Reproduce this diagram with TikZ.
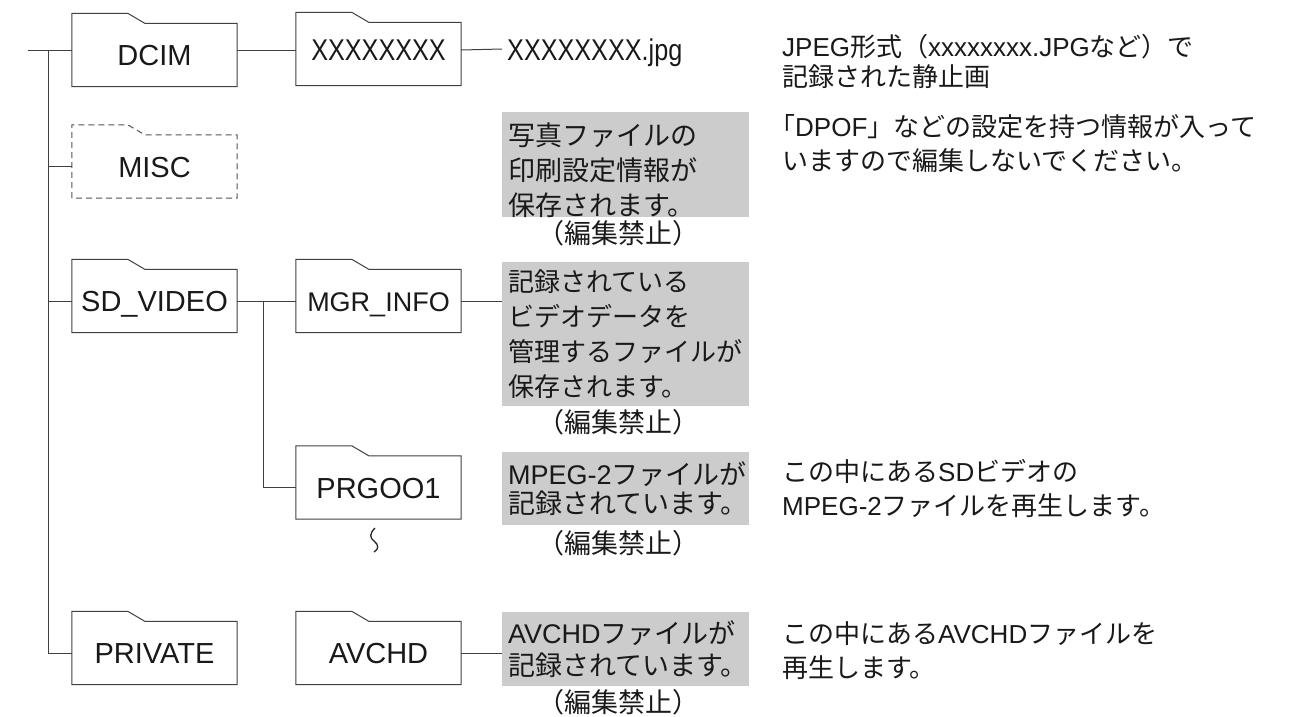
\documentclass[tikz,border=0pt]{standalone}
\usepackage{fontspec}
\setmainfont{Liberation Sans}
\newfontfamily\jpfont{Noto Sans CJK JP}
\newfontfamily\latinfont{Liberation Sans}
\newfontfamily\condfont[FakeStretch=0.84]{Liberation Sans}
\newcommand\lat[1]{\mbox{\latinfont #1}}
\newcommand\folderoutline[2][]{%
  \draw[fline,#1] (#2.south west) -- (#2.north west) -- ++(0,-10) -- ++(56,0)
    -- ++(17,10) -- (#2.north east) -- (#2.south east) -- cycle;}
\begin{document}
\begin{tikzpicture}[x=1pt,y=-1pt,
  fline/.style={draw=black!75, line width=1pt},
  conn/.style={draw=black!75, line width=1pt},
  folderbody/.style={minimum width=165pt, minimum height=63pt, inner sep=0pt,
    font=\fontsize{29}{34}\selectfont, text height=21pt, text depth=0pt, text=black!90},
  graybox/.style={fill=black!20, anchor=north west, minimum width=247pt,
    text width=235pt, inner xsep=6pt, inner ysep=0pt, align=left,
    text=black!90},
  note/.style={anchor=north west, inner sep=0pt, align=left, text=black!90,
    font=\jpfont\fontsize{26}{34}\selectfont},
  kinshi/.style={inner sep=0pt, text=black!90, font=\jpfont\fontsize{27}{32}\selectfont}
]
\useasboundingbox (0,0) rectangle (1312,716);

% folders
\node[folderbody] (dcim) at (154.5,55) {DCIM};
\node[folderbody, font=\condfont\fontsize{30}{34}\selectfont, text height=22pt, text depth=10pt] (xdir) at (378.5,54) {XXXXXXXX};
\node[folderbody] (misc) at (154.5,166.5) {MISC};
\node[folderbody] (sdv) at (154.5,301) {SD\_VIDEO};
\node[folderbody, font=\fontsize{27}{34}\selectfont] (mgr) at (378.5,301) {MGR\_INFO};
\node[folderbody] (prg) at (378.5,487.5) {PRGOO1};
\node[folderbody] (priv) at (154.5,653) {PRIVATE};
\node[folderbody] (avchd) at (378.5,653) {AVCHD};

\folderoutline{dcim}
\folderoutline{xdir}
\folderoutline[dash pattern=on 6pt off 4pt, draw=black!68]{misc}
\folderoutline{sdv}
\folderoutline{mgr}
\folderoutline{prg}
\folderoutline{priv}
\folderoutline{avchd}

% file name
\node[anchor=west, inner xsep=5pt, inner ysep=0pt, font=\condfont\fontsize{30}{34}\selectfont,
  text height=22pt, text depth=0pt, text=black!90] (jpg) at (502,49) {XXXXXXXX.jpg};

% gray boxes
\node[graybox, minimum height=105pt, font=\jpfont\fontsize{27}{35}\selectfont] (b1) at (502,112)
  {\rule{0pt}{33pt}写真ファイルの\\印刷設定情報が\\保存されます。};
\node[graybox, minimum height=144pt, font=\jpfont\fontsize{26}{35}\selectfont] (b2) at (502,262)
  {記録されている\\ビデオデータを\\管理するファイルが\\保存されます。};
\node[graybox, minimum height=73pt, font=\jpfont\fontsize{27}{29}\selectfont] (b3) at (502,452)
  {\lat{MPEG-2}ファイルが\\記録されています。};
\node[graybox, minimum height=74pt, font=\jpfont\fontsize{27}{32.5}\selectfont] (b4) at (502,612)
  {\lat{AVCHD}ファイルが\\記録されています。};

\node[kinshi] (k1) at (618,233) {（編集禁止）};
\node[kinshi] (k2) at (618,422) {（編集禁止）};
\node[kinshi] (k3) at (618,543) {（編集禁止）};
\node[kinshi] (k4) at (618,702) {（編集禁止）};

% right notes
\node[note, font=\jpfont\fontsize{26}{30.5}\selectfont] (n1) at (782,34)
  {\lat{JPEG}形式（\lat{xxxxxxxx.JPG}など）で\\記録された静止画};
\node[note] (n2) at (782,114)
  {｢\lat{DPOF}」などの設定を持つ情報が入って\\いますので編集しないでください。};
\node[note] (n3) at (782,459)
  {この中にある\lat{SD}ビデオの\\\lat{MPEG-2}ファイルを再生します。};
\node[note] (n4) at (782,621)
  {この中にある\lat{AVCHD}ファイルを\\再生します。};

% connectors
\coordinate (root) at (28,50);
\coordinate (trunk) at (48,50);
\coordinate (br) at (263,301);
\draw[conn] (root) -- ([yshift=5pt]dcim.west);
\draw[conn] (trunk) |- (priv.west);
\draw[conn] (trunk |- misc.west) -- (misc.west);
\draw[conn] (trunk |- sdv.west) -- (sdv.west);
\draw[conn] ([yshift=5pt]dcim.east) -- ([yshift=4pt]xdir.west);
\draw[conn] ([yshift=4pt]xdir.east) -- (jpg.west);
\draw[conn] (sdv.east) -- (mgr.west);
\draw[conn] (br) |- (prg.west);
\draw[conn] (mgr.east) -- (mgr.east -| b2.west);
\draw[conn] (avchd.east) -- (avchd.east -| b4.west);

% continuation mark
\draw[line width=1.3pt, black!85] (375,528) .. controls (369,534) and (370,538) .. (374,541)
  .. controls (379,545) and (379,549) .. (374,552);
\end{tikzpicture}
\end{document}
